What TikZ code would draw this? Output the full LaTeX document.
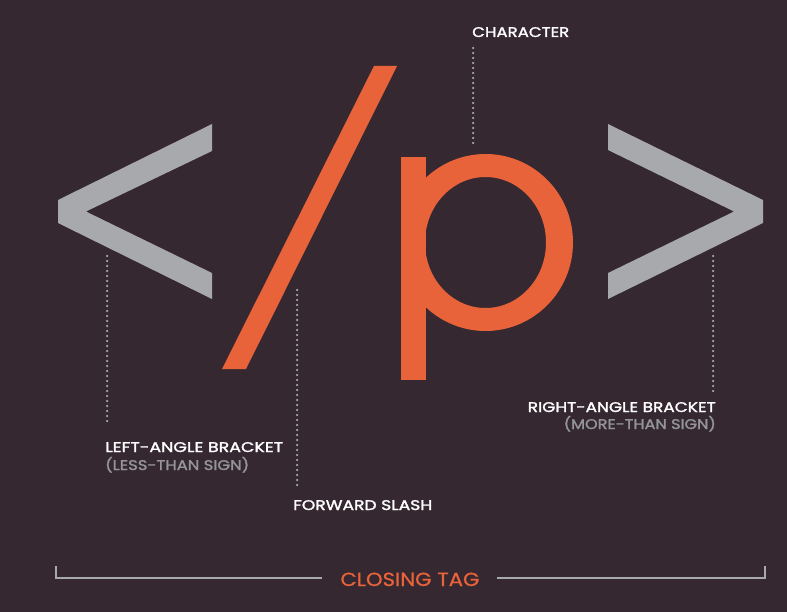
\documentclass[tikz,border=0pt]{standalone}
\usepackage{fontspec}
\usepackage{graphicx}
\newfontfamily\labfont{Poppins}[FakeBold=1.6]
\newfontfamily\tagfont{Poppins}[FakeBold=0.8]
\newcommand\fitw[2]{\resizebox{#1}{\height}{#2}}
\definecolor{bg}{HTML}{352830}
\definecolor{orng}{HTML}{E8623A}
\definecolor{glyphgray}{HTML}{A7A9AC}
\definecolor{dotgray}{HTML}{A8A9AD}
\definecolor{subgray}{HTML}{939598}
\tikzset{
  dots/.style={draw=dotgray, line width=2.5pt, line cap=round, dash pattern=on 0pt off 5pt},
  lab/.style={inner sep=0pt, text=white, font=\labfont\fontsize{14}{16}\selectfont},
  sublab/.style={inner sep=0pt, text=subgray, font=\labfont\fontsize{14}{16}\selectfont},
  taglab/.style={inner sep=0pt, text=orng, font=\tagfont\fontsize{19}{22}\selectfont},
  brk/.style={draw=glyphgray, line width=2pt}
}
\begin{document}
\begin{tikzpicture}[x=1pt,y=-1pt]
\useasboundingbox (0,0) rectangle (787,612);
\fill[bg] (0,0) rectangle (787,612);

% left-angle bracket
\fill[glyphgray] (212,124) -- (58,200) -- (58,223) -- (212,299) -- (212,273) -- (86,211.5) -- (212,151) -- cycle;
% right-angle bracket
\fill[glyphgray] (608,124) -- (763,200) -- (763,223) -- (608,299) -- (608,273) -- (734,211.5) -- (608,150) -- cycle;
% forward slash
\fill[orng] (374,66) -- (397,66) -- (246,369) -- (222,369) -- cycle;
% p
\begin{scope}
  \clip (401,140) rectangle (600,340);
  \fill[orng, even odd rule] (485.5,242.5) ellipse [x radius=87.5pt, y radius=88.5pt]
                             (485.5,242.5) ellipse [x radius=60.5pt, y radius=65.5pt];
\end{scope}
\fill[orng] (401,157) rectangle (426,380);

% labels
\node[lab, anchor=base west] (char) at (472,37) {\fitw{97pt}{CHARACTER}};
\node[lab, anchor=base west] (left) at (105,452) {\fitw{178pt}{LEFT-ANGLE BRACKET}};
\node[sublab, anchor=base west] (leftsub) at (105,470) {\fitw{144pt}{(LESS-THAN SIGN)}};
\node[lab, anchor=base west] (slash) at (293,510) {\fitw{139pt}{FORWARD SLASH}};
\node[lab, anchor=base east] (right) at (716,412) {\fitw{188pt}{RIGHT-ANGLE BRACKET}};
\node[sublab, anchor=base east] (rightsub) at (716,429) {\fitw{152pt}{(MORE-THAN SIGN)}};
\node[taglab, anchor=base] (tag) at (410,586) {\fitw{139pt}{CLOSING TAG}};

% leader dots
\coordinate (charA) at (473,48);  \coordinate (charB) at (473,143);
\coordinate (leftA) at (107,256); \coordinate (leftB) at (107,425);
\coordinate (slashA) at (297,290); \coordinate (slashB) at (297,487);
\coordinate (rightA) at (713,256); \coordinate (rightB) at (713,392);
\draw[dots] (charA) -- (charB);
\draw[dots] (leftA) -- (leftB);
\draw[dots] (slashA) -- (slashB);
\draw[dots] (rightA) -- (rightB);

% closing tag bracket
\coordinate (bl) at (56,566); \coordinate (br) at (765,566);
\draw[brk] (bl) |- ([xshift=-18pt]tag.west |- 0,578);
\draw[brk] (br) |- ([xshift=17pt]tag.east |- 0,578);
\end{tikzpicture}
\end{document}
